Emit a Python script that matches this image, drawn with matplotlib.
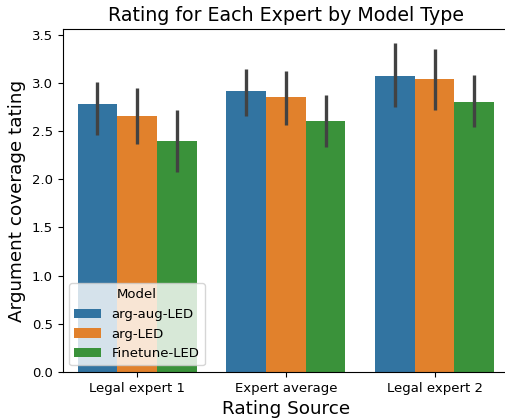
import matplotlib.pyplot as plt
import numpy as np

sources = ['Legal expert 1', 'Expert average', 'Legal expert 2']
models = ['arg-aug-LED', 'arg-LED', 'Finetune-LED']
colors = ['#3274a1', '#e1812c', '#3a923a']

# mean rating per model, one list per rating source order
means = {
    'arg-aug-LED': [2.78, 2.92, 3.07],
    'arg-LED': [2.66, 2.85, 3.04],
    'Finetune-LED': [2.40, 2.60, 2.80],
}
ci_low = {
    'arg-aug-LED': [2.46, 2.66, 2.75],
    'arg-LED': [2.37, 2.56, 2.72],
    'Finetune-LED': [2.08, 2.34, 2.54],
}
ci_high = {
    'arg-aug-LED': [3.01, 3.14, 3.41],
    'arg-LED': [2.95, 3.12, 3.35],
    'Finetune-LED': [2.72, 2.88, 3.08],
}

fig = plt.figure(figsize=(5.05, 4.19), dpi=100)
ax = fig.add_axes([0.124, 0.1122, 0.884, 0.8186])

ind = np.arange(len(sources))
width = 0.8 / len(models)
handles = []
for i, m in enumerate(models):
    x = ind - 0.4 + width * (i + 0.5)
    h = ax.bar(x, means[m], width, color=colors[i], label=m)
    handles.append(h)
    lo = np.array(means[m]) - np.array(ci_low[m])
    hi = np.array(ci_high[m]) - np.array(means[m])
    ax.errorbar(x, means[m], yerr=[lo, hi], fmt='none', ecolor='#424242',
                elinewidth=2.4, capsize=0)

ax.set_xlim(-0.5, 2.5)
ax.set_ylim(0, 3.56)
ax.set_xticks(ind)
ax.set_xticklabels(sources)
ax.set_yticks(np.arange(0, 3.6, 0.5))
ax.spines['right'].set_visible(False)
ax.set_ylabel('Argument coverage tating', fontsize=13.2)
ax.set_xlabel('Rating Source', fontsize=13.2)
ax.set_title('Rating for Each Expert by Model Type', fontsize=13.7)
ax.tick_params(axis='both', labelsize=9.5)

ax.legend(handles, models, title='Model', loc='lower left', fontsize=9.5,
          title_fontsize=9.5)

fig.savefig('out.png', dpi=100)
